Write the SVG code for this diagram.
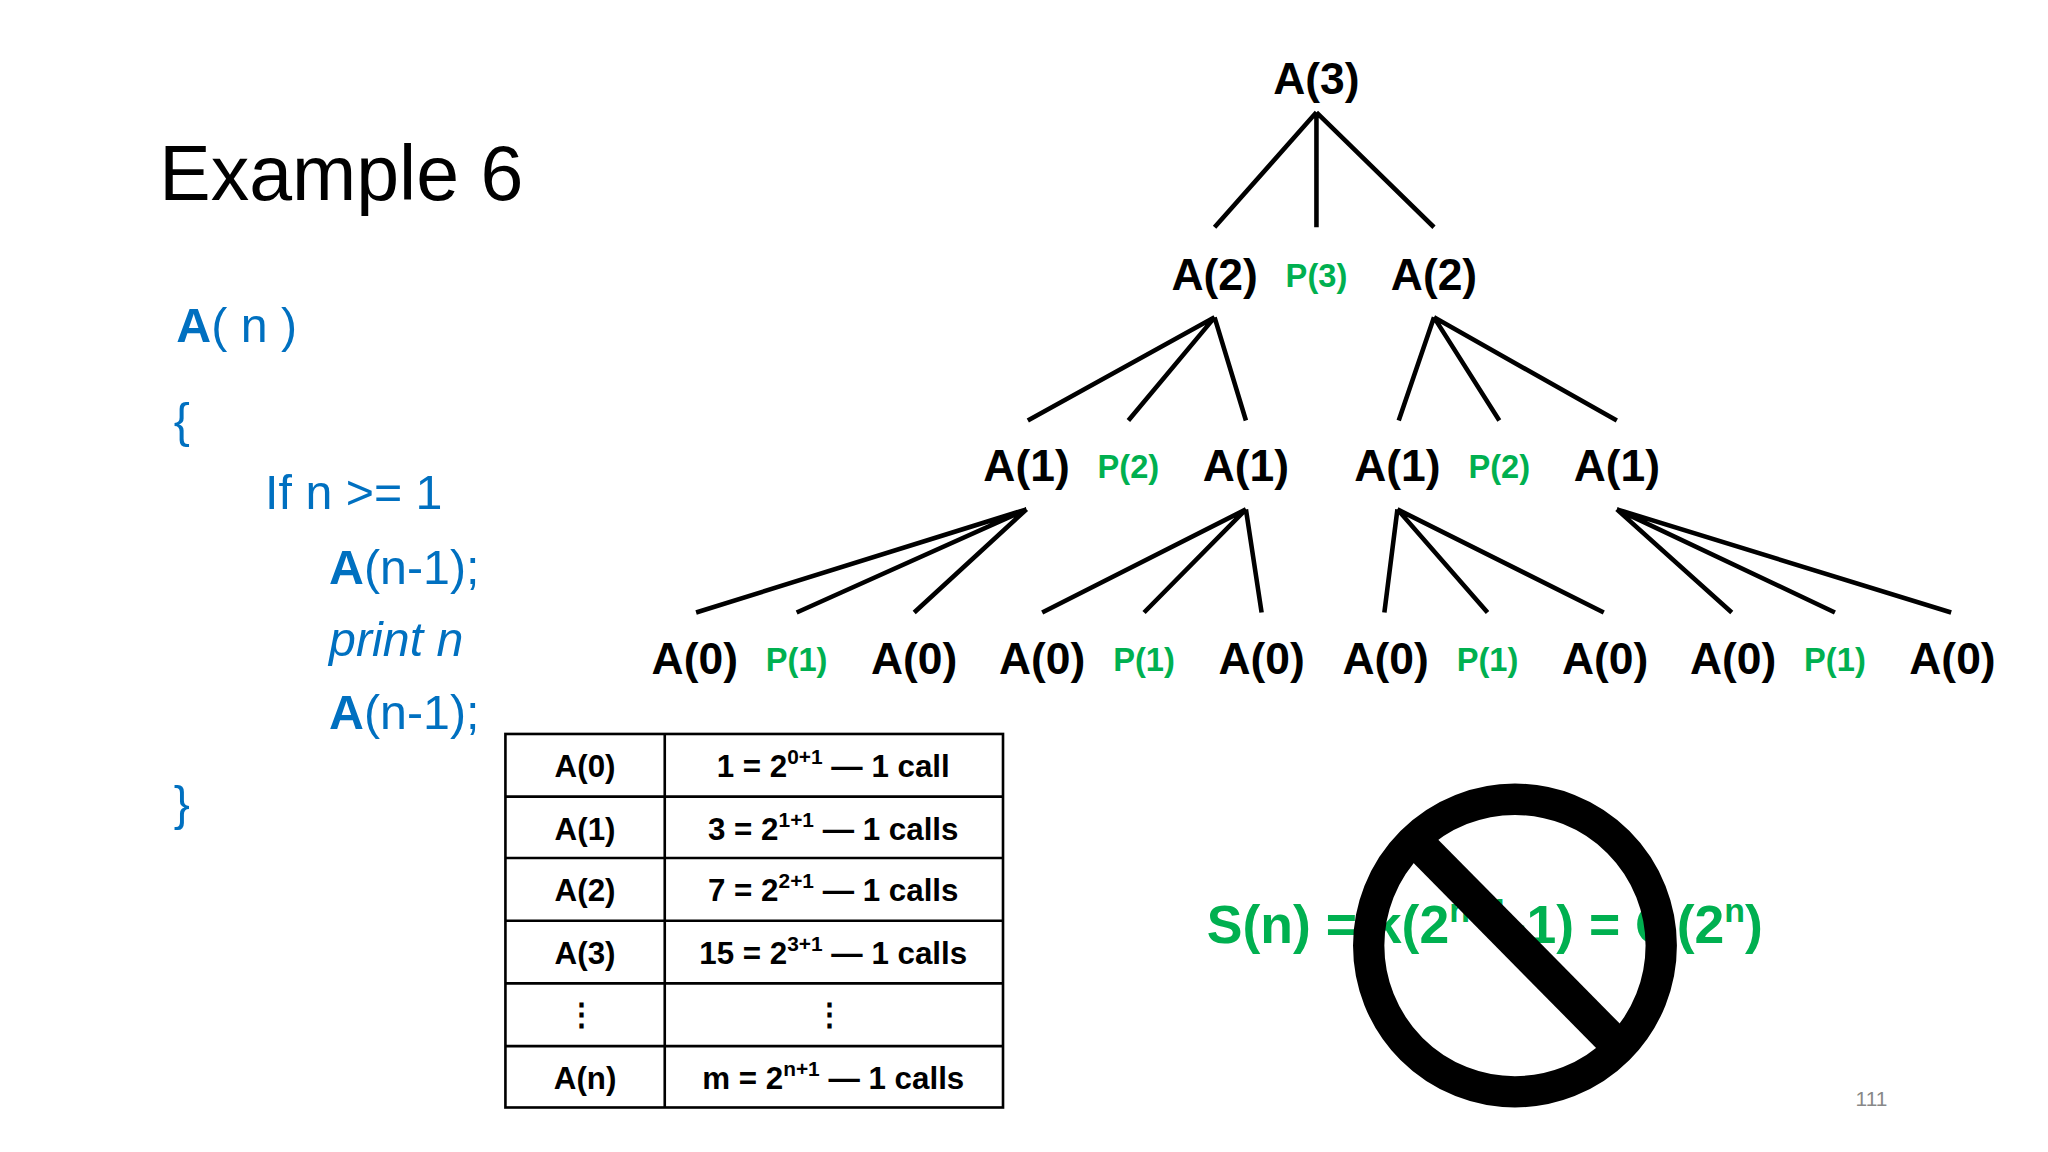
<svg xmlns="http://www.w3.org/2000/svg" width="2048" height="1152" viewBox="0 0 2048 1152">
<style>
.t{font-family:"Liberation Sans",Arial,sans-serif}
.b{font-family:"Liberation Sans",Arial,sans-serif;font-weight:bold;font-size:34px;fill:#000;text-anchor:middle}
.p{font-family:"Liberation Sans",Arial,sans-serif;font-weight:bold;font-size:25px;fill:#00B050;text-anchor:middle}
.c{font-family:"Liberation Sans",Arial,sans-serif;font-size:37px;fill:#0070C0}
.tb{font-family:"Liberation Sans",Arial,sans-serif;font-size:24px;fill:#000;text-anchor:middle;font-weight:bold}
.l{stroke:#000;stroke-width:3.5;fill:none}
</style>
<rect width="2048" height="1152" fill="#fff"/>
<g transform="scale(1.306)">
<text id="title" class="t" x="122" y="153" font-size="59" fill="#000">Example 6</text>
<g id="code">
<text class="c" x="135" y="262" font-size="42"><tspan font-weight="bold">A</tspan>( n )</text>
<text class="c" x="133" y="335" font-size="42">{</text>
<text class="c" x="203" y="390" font-size="36">If n &gt;= 1</text>
<text class="c" x="252" y="447"><tspan font-weight="bold">A</tspan>(n-1);</text>
<text class="c" x="252" y="502" font-style="italic">print n</text>
<text class="c" x="252" y="558"><tspan font-weight="bold">A</tspan>(n-1);</text>
<text class="c" x="133" y="628" font-size="42">}</text>
</g>
<g id="connectors" class="l">
<path d="M1008 86L930 174M1008 86L1008 174M1008 86L1098 174"/>
<path d="M930 243L787 322M930 243L864 322M930 243L954 322"/>
<path d="M1098 243L1071 322M1098 243L1148 322M1098 243L1238 322"/>
<path d="M786 390L533 469M786 390L610 469M786 390L700 469"/>
<path d="M954 390L798 469M954 390L876 469M954 390L966 469"/>
<path d="M1070 390L1060 469M1070 390L1139 469M1070 390L1228 469"/>
<path d="M1238 390L1326 469M1238 390L1405 469M1238 390L1494 469"/>
</g>
<g id="n-root"><text class="b" x="1008" y="72">A(3)</text></g>
<g id="row2"><text class="b" x="930" y="222">A(2)</text><text class="p" x="1008" y="220">P(3)</text><text class="b" x="1098" y="222">A(2)</text></g>
<g id="row3"><text class="b" x="786" y="368">A(1)</text><text class="p" x="864" y="366">P(2)</text><text class="b" x="954" y="368">A(1)</text><text class="b" x="1070" y="368">A(1)</text><text class="p" x="1148" y="366">P(2)</text><text class="b" x="1238" y="368">A(1)</text></g>
<g id="row4"><text class="b" x="532" y="516">A(0)</text><text class="p" x="610" y="514">P(1)</text><text class="b" x="700" y="516">A(0)</text><text class="b" x="798" y="516">A(0)</text><text class="p" x="876" y="514">P(1)</text><text class="b" x="966" y="516">A(0)</text><text class="b" x="1061" y="516">A(0)</text><text class="p" x="1139" y="514">P(1)</text><text class="b" x="1229" y="516">A(0)</text><text class="b" x="1327" y="516">A(0)</text><text class="p" x="1405" y="514">P(1)</text><text class="b" x="1495" y="516">A(0)</text></g>
<g id="table">
<rect x="387" y="562" width="381" height="286" fill="none" stroke="#000" stroke-width="2"/>
<path d="M509 562V848M387 610H768M387 657H768M387 705H768M387 753H768M387 801H768" stroke="#000" stroke-width="2"/>
<text class="tb" x="448" y="595">A(0)</text><text class="tb" x="638" y="595">1 = 2<tspan font-size="16" dy="-10">0+1</tspan><tspan dy="10"> — 1 call</tspan></text>
<text class="tb" x="448" y="643">A(1)</text><text class="tb" x="638" y="643">3 = 2<tspan font-size="16" dy="-10">1+1</tspan><tspan dy="10"> — 1 calls</tspan></text>
<text class="tb" x="448" y="690">A(2)</text><text class="tb" x="638" y="690">7 = 2<tspan font-size="16" dy="-10">2+1</tspan><tspan dy="10"> — 1 calls</tspan></text>
<text class="tb" x="448" y="738">A(3)</text><text class="tb" x="638" y="738">15 = 2<tspan font-size="16" dy="-10">3+1</tspan><tspan dy="10"> — 1 calls</tspan></text>
<text class="tb" x="445" y="785">⋮</text><text class="tb" x="635" y="785">⋮</text>
<text class="tb" x="448" y="834">A(n)</text><text class="tb" x="638" y="834">m = 2<tspan font-size="16" dy="-10">n+1</tspan><tspan dy="10"> — 1 calls</tspan></text>
</g>
<text id="formula" x="924" y="722" font-family="Liberation Sans,Arial,sans-serif" font-weight="bold" font-size="41" fill="#00B050">S(n) = k(2<tspan font-size="26" dy="-16">n+1</tspan><tspan dy="16">-1) = O(2</tspan><tspan font-size="26" dy="-16">n</tspan><tspan dy="16">)</tspan></text>
<g id="nosign">
<circle cx="1160" cy="724" r="112" fill="none" stroke="#000" stroke-width="24"/>
<line x1="1085" y1="645" x2="1238" y2="800" stroke="#000" stroke-width="26"/>
</g>
<text x="1433" y="847" font-family="Liberation Sans,Arial,sans-serif" font-size="16" fill="#888" text-anchor="middle">111</text>
</g>
</svg>
